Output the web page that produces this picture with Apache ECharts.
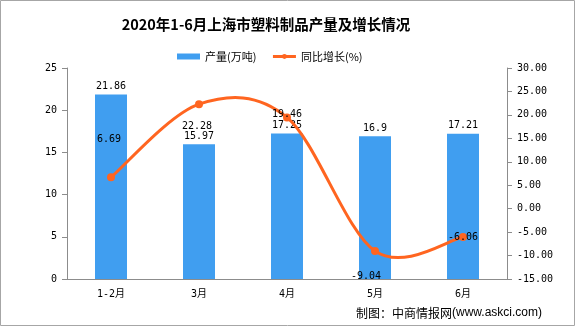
<!DOCTYPE html>
<html>
<head>
<meta charset="utf-8">
<script src="https://cdn.jsdelivr.net/npm/echarts@6/dist/echarts.min.js"></script>
<style>
html,body{margin:0;padding:0;background:#fff;}
#chart{width:576px;height:327px;}
</style>
</head>
<body>
<div id="chart"></div>
<script>
var categories = ['1-2月', '3月', '4月', '5月', '6月'];
var production = [21.86, 15.97, 17.25, 16.9, 17.21];
var growth = [6.69, 22.28, 19.46, -9.04, -6.06];
var leftTicks = {min: 0, max: 25, interval: 5};
var rightTicks = {min: -15, max: 30, interval: 5};

// label offsets (styling only) for the growth labels
var growthLabelOffsets = [[-2, -38], [-2, 22], [0, -3], [-9, 25], [0, 0]];

var numFont = '"DejaVu Sans Mono", "Noto Sans CJK SC", monospace';
var cjkFont = '"Noto Sans CJK SC", sans-serif';
var axisColor = '#8c8c8c';
var lineColor = '#ff6520';

// Excel-like smoothed curve segment between point i and i+1 (Catmull-Rom style)
function renderSegment(params, api) {
  var i = params.dataIndex;
  var n = growth.length;
  if (i >= n - 1) return null;
  function pt(k) {
    k = Math.max(0, Math.min(n - 1, k));
    return api.coord([k, growth[k]]);
  }
  var p0 = pt(i - 1), p1 = pt(i), p2 = pt(i + 1), p3 = pt(i + 2);
  return {
    type: 'bezierCurve',
    shape: {
      x1: p1[0], y1: p1[1],
      cpx1: p1[0] + (p2[0] - p0[0]) / 6, cpy1: p1[1] + (p2[1] - p0[1]) / 6,
      cpx2: p2[0] - (p3[0] - p1[0]) / 6, cpy2: p2[1] - (p3[1] - p1[1]) / 6,
      x2: p2[0], y2: p2[1]
    },
    style: {fill: null, stroke: lineColor, lineWidth: 3}
  };
}

var chart = echarts.init(document.getElementById('chart'));
chart.setOption({
  animation: false,
  backgroundColor: '#fff',
  title: {
    text: '2020年1-6月上海市塑料制品产量及增长情况',
    left: 261,
    textAlign: 'center',
    top: 12,
    textStyle: {fontFamily: cjkFont, fontWeight: 'bold', fontSize: 14.5, color: '#000'}
  },
  legend: {
    top: 46,
    left: 172,
    itemWidth: 23,
    itemHeight: 6,
    itemGap: 15,
    textStyle: {fontFamily: cjkFont, fontSize: 11, color: '#000'},
    data: [
      {name: '产量(万吨)', icon: 'rect'},
      {name: '同比增长(%)', lineStyle: {opacity: 1, width: 3, color: lineColor}}
    ]
  },
  grid: {left: 67, right: 69, top: 68, bottom: 48},
  xAxis: {
    type: 'category',
    data: categories,
    axisLine: {lineStyle: {color: axisColor}},
    axisTick: {length: 5, lineStyle: {color: axisColor}},
    axisLabel: {color: '#000', fontFamily: numFont, fontSize: 10, margin: 10}
  },
  yAxis: [
    {
      type: 'value',
      min: leftTicks.min, max: leftTicks.max, interval: leftTicks.interval,
      splitLine: {show: false},
      axisLine: {show: true, lineStyle: {color: axisColor}},
      axisTick: {show: true, length: 5, lineStyle: {color: axisColor}},
      axisLabel: {color: '#000', fontFamily: numFont, fontSize: 10, margin: 10}
    },
    {
      type: 'value',
      min: rightTicks.min, max: rightTicks.max, interval: rightTicks.interval,
      splitLine: {show: false},
      axisLine: {show: true, lineStyle: {color: axisColor}},
      axisTick: {show: true, length: 5, lineStyle: {color: axisColor}},
      axisLabel: {color: '#000', fontFamily: numFont, fontSize: 10, margin: 10,
        formatter: function (v) { return v.toFixed(2); }}
    }
  ],
  series: [
    {
      name: '产量(万吨)',
      type: 'bar',
      data: production,
      barWidth: 32,
      itemStyle: {color: '#409ef0'},
      label: {show: true, position: 'top', distance: 3, color: '#000', fontFamily: numFont, fontSize: 10}
    },
    {
      name: '同比增长曲线',
      type: 'custom',
      yAxisIndex: 1,
      z: 4,
      silent: true,
      renderItem: renderSegment,
      data: growth
    },
    {
      name: '同比增长(%)',
      type: 'line',
      yAxisIndex: 1,
      symbol: 'circle',
      symbolSize: 8,
      z: 5,
      lineStyle: {color: lineColor, width: 3, opacity: 0},
      itemStyle: {color: lineColor},
      data: growth.map(function (v, i) {
        return {value: v, label: {offset: growthLabelOffsets[i]}};
      }),
      label: {show: true, position: 'inside', color: '#000', fontFamily: numFont, fontSize: 10}
    }
  ],
  graphic: [
    {
      type: 'rect', silent: true, z: 100,
      shape: {x: 0.5, y: 0.5, width: 574, height: 325},
      style: {fill: 'none', stroke: '#a6a6a6', lineWidth: 1}
    },
    {
      type: 'text', right: 34, top: 307,
      style: {
        text: '{a|制图：中商情报网}{b|(www.askci.com)}',
        rich: {
          a: {fontFamily: cjkFont, fontSize: 12, color: '#000'},
          b: {fontFamily: '"Liberation Sans", sans-serif', fontSize: 12, color: '#1f3b7a'}
        }
      }
    }
  ]
});
</script>
</body>
</html>
